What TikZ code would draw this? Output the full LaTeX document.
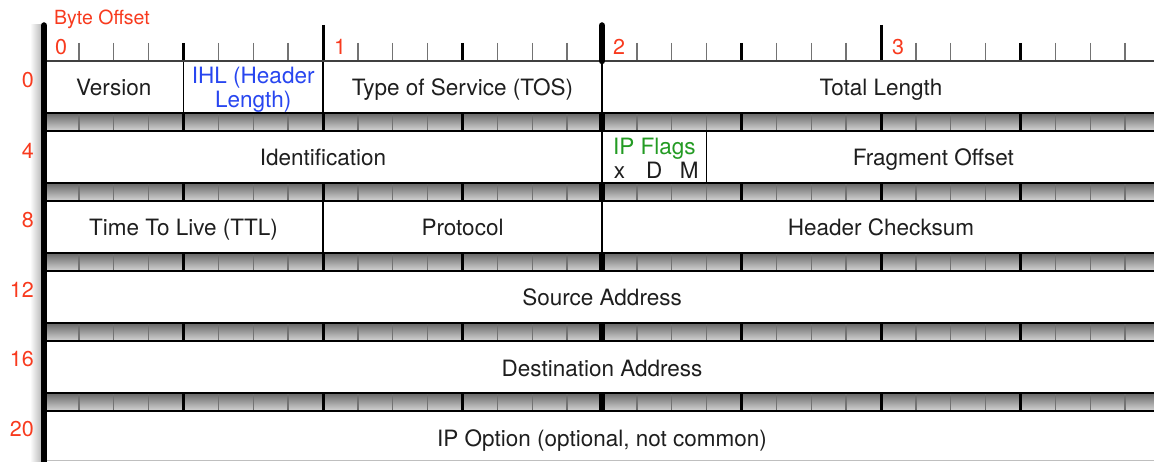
\documentclass[tikz,border=0pt]{standalone}
\usepackage{fontspec}
\setmainfont{TeX Gyre Heros}
\definecolor{offred}{RGB}{248,58,30}
\definecolor{ihlblue}{RGB}{40,70,240}
\definecolor{flaggreen}{RGB}{35,155,35}
\definecolor{txt}{RGB}{30,30,30}
\newcommand{\fsz}{\fontsize{22.5}{24}\selectfont}
\newcommand{\rsz}{\fontsize{21.5}{24}\selectfont}
\newcommand{\bsz}{\fontsize{19.5}{22}\selectfont}
\begin{document}
\begin{tikzpicture}[x=1pt,y=-1pt,
  field/.style={draw=black, line width=1.2pt, inner sep=0pt, minimum height=52pt, text=txt, font=\fsz, text height=18pt, text depth=0pt},
  plain/.style={inner sep=0pt, text=txt, font=\fsz},
  offs/.style={inner sep=0pt, text=offred, font=\rsz},
  bittick/.style={draw=black!55, line width=1.3pt},
  nibtick/.style={draw=black, line width=2.4pt},
  bytetick/.style={draw=black, line width=3pt},
  halftick/.style={draw=black, line width=6.5pt, line cap=round},
  barline/.style={draw=black, line width=2pt}]
\def\bw{34.875}
\useasboundingbox (0,0) rectangle (1154,462);
\fill[white] (0,0) rectangle (1154,462);
\begin{scope}
\clip (0,0) rectangle (1154,462);
% soft shadow left of the main bar
\shade[left color=white, right color=black!28] (30,25) rectangle (42,462);
% grey separator bars
\foreach \k in {0,...,4}{
  \shade[top color=black!60, bottom color=black!16] (44,{113+70*\k}) rectangle (1160,{131+70*\k});
  \foreach \i in {1,...,31}{
    \draw[bittick] ({44+\bw*\i},{113+70*\k}) -- ({44+\bw*\i},{131+70*\k});
  }
  \foreach \i in {4,12,20,28}{
    \draw[nibtick] ({44+\bw*\i},{113+70*\k}) -- ({44+\bw*\i},{131+70*\k});
  }
  \foreach \i in {8,24}{
    \draw[bytetick] ({44+\bw*\i},{113+70*\k}) -- ({44+\bw*\i},{131+70*\k});
  }
  \draw[draw=black, line width=6.5pt] ({44+\bw*16},{113+70*\k}) -- ({44+\bw*16},{131+70*\k});
  \draw[barline] (44,{113+70*\k}) -- (1160,{113+70*\k});
  \draw[barline] (44,{131+70*\k}) -- (1160,{131+70*\k});
}
% row 0
\node[field, minimum width=139.5pt] (ver) at (113.75,87) {Version};
\node[field, minimum width=139.5pt] (ihl) at (253.25,87) {};
\node[plain, text=ihlblue, align=center] (ihltext) at (253.25,90) {IHL (Header\\Length)};
\node[field, minimum width=279pt] (tos) at (462.5,87) {Type of Service (TOS)};
\node[field, minimum width=558pt] (tlen) at (881,87) {Total Length};
% row 4
\node[field, minimum width=558pt] (ident) at (323,157) {Identification};
\node[field, minimum width=104.625pt] (flags) at (654.3125,157) {};
\node[plain, text=flaggreen, anchor=base] (flagtitle) at (654.3,155) {IP Flags};
\node[plain, anchor=base] (fx) at (619.4,179) {x};
\node[plain, anchor=base] (fd) at (654.3,179) {D};
\node[plain, anchor=base] (fm) at (689.2,179) {M};
\node[field, minimum width=453.375pt] (frag) at (933.3125,157) {Fragment Offset};
% row 8
\node[field, minimum width=279pt] (ttl) at (183.5,227) {Time To Live (TTL)};
\node[field, minimum width=279pt] (proto) at (462.5,227) {Protocol};
\node[field, minimum width=558pt] (csum) at (881,227) {Header Checksum};
% rows 12-20
\node[field, minimum width=1116pt] (src) at (602,297) {Source Address};
\node[field, minimum width=1116pt] (dst) at (602,367) {Destination Address};
\node[field, draw=none, minimum width=1116pt] (opt) at (602,437) {IP Option (optional, not common)};
\draw[black!25, line width=1pt] (44,460.5) -- (1160,460.5);
% ruler
\foreach \i in {1,...,32}{
  \draw[bittick] ({44+\bw*\i},43) -- ({44+\bw*\i},61);
}
\foreach \i in {4,12,20,28}{
  \draw[nibtick] ({44+\bw*\i},43) -- ({44+\bw*\i},61);
}
\foreach \i in {8,24}{
  \draw[bytetick] ({44+\bw*\i},25) -- ({44+\bw*\i},61);
}
\draw[draw=black!75, line width=1.6pt] (44,61) -- (1160,61);
\draw[halftick] ({44+\bw*16},25.5) -- ({44+\bw*16},61);
\draw[halftick] (44,25.5) -- (44,470);
\end{scope}
% labels
\node[inner sep=0pt, text=offred, font=\bsz, anchor=west] (bo) at (54,19) {Byte Offset};
\node[offs, anchor=west] (b0) at (55,47) {0};
\node[offs, anchor=west] (b1) at (334,47) {1};
\node[offs, anchor=west] (b2) at (613,47) {2};
\node[offs, anchor=west] (b3) at (892,47) {3};
\node[offs, anchor=east] (o0) at (34,80) {0};
\node[offs, anchor=east] (o4) at (34,151) {4};
\node[offs, anchor=east] (o8) at (34,220) {8};
\node[offs, anchor=east] (o12) at (34,290) {12};
\node[offs, anchor=east] (o16) at (34,359) {16};
\node[offs, anchor=east] (o20) at (34,429) {20};
\end{tikzpicture}
\end{document}
